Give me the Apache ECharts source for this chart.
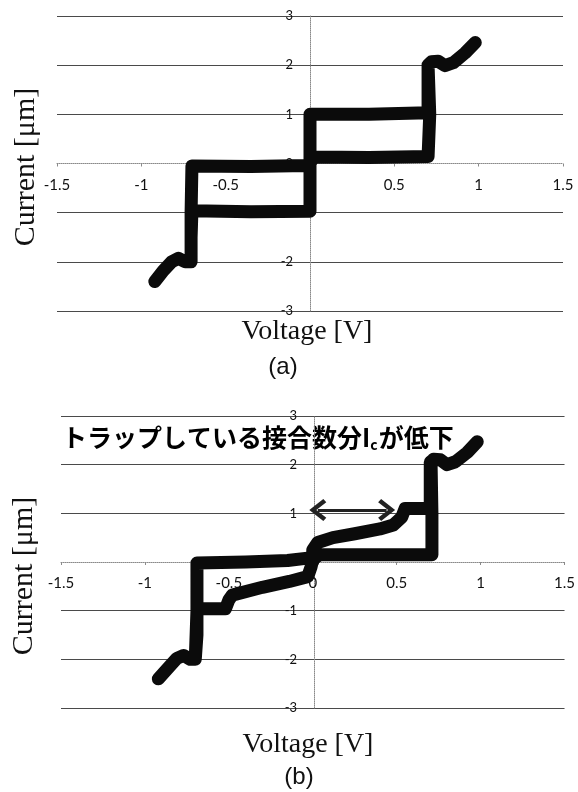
<!DOCTYPE html>
<html>
<head>
<meta charset="utf-8">
<script src="https://cdn.jsdelivr.net/npm/echarts@6/dist/echarts.min.js"></script>
<style>
  html, body { margin: 0; padding: 0; background: #ffffff; }
  #chart { width: 578px; height: 792px; }
</style>
</head>
<body>
<div id="chart"></div>
<script>
// Axis ticks shared by both panels
const voltageTicks = [-1.5, -1, -0.5, 0, 0.5, 1, 1.5];
const currentTicks = [-3, -2, -1, 0, 1, 2, 3];

// Panel (a): full sweep 0 -> +1 V -> 0 -> -1 V -> 0
const voltageA = [0.00, 0.00, 0.00, 0.35, 0.70, 0.70, 0.70, 0.72, 0.76, 0.80, 0.85, 0.92, 0.98,
                  0.92, 0.85, 0.80, 0.76, 0.72, 0.70, 0.71, 0.70, 0.35, 0.02, 0.00,
                  0.00, -0.35, -0.70, -0.705, -0.705, -0.74, -0.78, -0.82, -0.87, -0.92,
                  -0.87, -0.82, -0.78, -0.74, -0.705, -0.705, -0.70, -0.35, -0.02, 0.00];
const currentA = [0.00, 0.50, 1.00, 1.00, 1.03, 1.50, 2.00, 2.07, 2.08, 1.99, 2.05, 2.25, 2.46,
                  2.25, 2.05, 1.99, 2.08, 2.07, 2.00, 1.00, 0.14, 0.12, 0.13, 0.00,
                  -0.97, -0.98, -0.96, -1.50, -2.00, -2.00, -1.93, -2.00, -2.18, -2.40,
                  -2.18, -2.00, -1.93, -2.00, -2.00, -1.00, -0.05, -0.06, -0.04, 0.00];

// Panel (b): same sweep with trapped flux lowering Ic
const voltageB = [0.00, 0.00, 0.03, 0.12, 0.25, 0.40, 0.48, 0.53, 0.55, 0.62, 0.70,
                  0.70, 0.70, 0.72, 0.76, 0.80, 0.85, 0.92, 0.98,
                  0.92, 0.85, 0.80, 0.76, 0.72, 0.705, 0.71, 0.71, 0.35, 0.04,
                  0.00, -0.01, -0.03, -0.14, -0.30, -0.48, -0.50, -0.52, -0.60, -0.69,
                  -0.69, -0.70, -0.73, -0.77, -0.81, -0.86, -0.92,
                  -0.86, -0.81, -0.77, -0.73, -0.70, -0.69, -0.69, -0.40, -0.15, -0.03, 0.00];
const currentB = [0.00, 0.25, 0.40, 0.50, 0.58, 0.68, 0.76, 0.92, 1.10, 1.10, 1.10,
                  1.60, 2.05, 2.11, 2.10, 2.00, 2.06, 2.25, 2.47,
                  2.25, 2.06, 2.00, 2.10, 2.11, 2.00, 1.00, 0.15, 0.15, 0.15,
                  0.05, -0.10, -0.30, -0.40, -0.52, -0.68, -0.78, -0.96, -0.96, -0.96,
                  -1.50, -2.00, -2.00, -1.92, -1.98, -2.17, -2.40,
                  -2.17, -1.98, -1.92, -2.00, -2.00, -1.00, -0.02, 0.00, 0.03, 0.08, 0.12];

// Double-headed arrow marking the Ic reduction in panel (b)
const arrowFrom = [0.03, 1.07];
const arrowTo = [0.44, 1.07];

const zip = (xs, ys) => xs.map((x, i) => [x, ys[i]]);

const tickFont = 'Lato, "Open Sans", sans-serif';
const serifFont = '"Liberation Serif", "DejaVu Serif", serif';

// Panel frames in pixels; the axes cross at the centre of each frame (V = 0, I = 0)
const frames = [
  { left: 57, top: 16, width: 506, height: 295 },
  { left: 61, top: 416, width: 506, height: 292 }
];

function xAxisFor(gridIndex) {
  return {
    type: 'value',
    gridIndex,
    position: 'bottom',
    offset: -frames[gridIndex].height / 2,
    min: voltageTicks[0],
    max: voltageTicks[voltageTicks.length - 1],
    interval: voltageTicks[1] - voltageTicks[0],
    axisLine: { onZero: false, lineStyle: { color: '#8a8a8a', width: 1, type: 'dotted' } },
    axisTick: { show: true, length: 3, lineStyle: { color: '#8a8a8a' } },
    axisLabel: { fontFamily: tickFont, fontSize: 15, color: '#111', margin: 14 },
    splitLine: { show: false }
  };
}

function yAxisFor(gridIndex) {
  return {
    type: 'value',
    gridIndex,
    position: 'left',
    offset: -frames[gridIndex].width / 2,
    min: currentTicks[0],
    max: currentTicks[currentTicks.length - 1],
    interval: currentTicks[1] - currentTicks[0],
    axisLine: { onZero: false, lineStyle: { color: '#8a8a8a', width: 1, type: 'dotted' } },
    axisTick: { show: false },
    axisLabel: { fontFamily: tickFont, fontSize: 13, color: '#111', margin: 17 },
    splitLine: {
      show: true,
      lineStyle: {
        color: ['#4a4a4a', '#4a4a4a', '#4a4a4a', 'rgba(0,0,0,0)', '#4a4a4a', '#4a4a4a', '#4a4a4a'],
        width: 1.2
      }
    }
  };
}

const curveStyle = { color: '#0b0b0b', width: 13, cap: 'round', join: 'round' };

const chevron = 'path://M10,0 L20,14 L17,17 L10,7 L3,17 L0,14 Z';

const option = {
  animation: false,
  backgroundColor: '#ffffff',
  grid: frames,
  xAxis: [xAxisFor(0), xAxisFor(1)],
  yAxis: [yAxisFor(0), yAxisFor(1)],
  series: [
    {
      type: 'line', xAxisIndex: 0, yAxisIndex: 0,
      data: zip(voltageA, currentA),
      symbol: 'none', silent: true,
      lineStyle: curveStyle
    },
    {
      type: 'line', xAxisIndex: 1, yAxisIndex: 1,
      data: zip(voltageB, currentB),
      symbol: 'none', silent: true,
      lineStyle: curveStyle,
      markLine: {
        silent: true,
        symbol: [chevron, chevron],
        symbolSize: [22, 17],
        label: { show: false },
        lineStyle: { color: '#222', width: 3, type: 'solid' },
        itemStyle: { color: '#222' },
        data: [[{ coord: arrowFrom }, { coord: arrowTo }]]
      }
    }
  ],
  graphic: [
    {
      type: 'text', x: 26, y: 167, rotation: Math.PI / 2,
      style: { text: 'Current [μm]', font: '30px ' + serifFont, fill: '#111', align: 'center', verticalAlign: 'middle' }
    },
    {
      type: 'text', x: 307, y: 332,
      style: { text: 'Voltage [V]', font: '28px ' + serifFont, fill: '#111', align: 'center', verticalAlign: 'middle' }
    },
    {
      type: 'text', x: 283, y: 367,
      style: { text: '(a)', font: '24px "Liberation Sans", Arial, sans-serif', fill: '#111', align: 'center', verticalAlign: 'middle' }
    },
    {
      type: 'text', x: 24, y: 576, rotation: Math.PI / 2,
      style: { text: 'Current [μm]', font: '30px ' + serifFont, fill: '#111', align: 'center', verticalAlign: 'middle' }
    },
    {
      type: 'text', x: 308, y: 745,
      style: { text: 'Voltage [V]', font: '28px ' + serifFont, fill: '#111', align: 'center', verticalAlign: 'middle' }
    },
    {
      type: 'text', x: 299, y: 777,
      style: { text: '(b)', font: '24px "Liberation Sans", Arial, sans-serif', fill: '#111', align: 'center', verticalAlign: 'middle' }
    },
    {
      type: 'text', x: 62, y: 437,
      style: {
        text: '{m|トラップしている接合数分I}{s|c}{m|が低下}',
        align: 'left', verticalAlign: 'middle',
        rich: {
          m: { fontFamily: '"Noto Sans CJK JP", sans-serif', fontWeight: 'bold', fontSize: 25, fill: '#000', lineHeight: 30 },
          s: { fontFamily: '"Noto Sans CJK JP", sans-serif', fontWeight: 'bold', fontSize: 14, fill: '#000', lineHeight: 30, verticalAlign: 'bottom', padding: [12, 1, 0, 0] }
        }
      }
    }
  ]
};

const chart = echarts.init(document.getElementById('chart'), null, { renderer: 'canvas' });
chart.setOption(option);
</script>
</body>
</html>
